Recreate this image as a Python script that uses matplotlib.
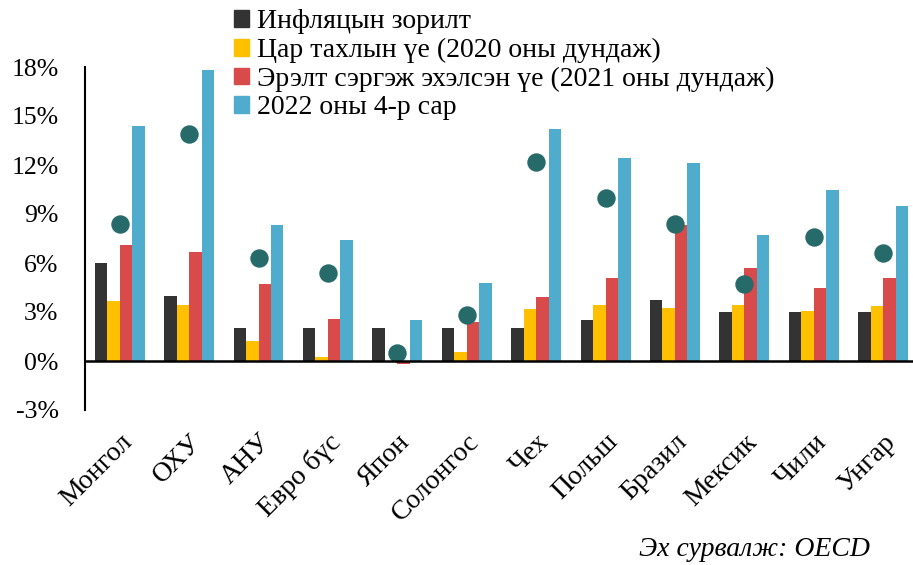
import matplotlib
matplotlib.use("Agg")
import matplotlib.pyplot as plt
import numpy as np
from matplotlib.patches import Patch

categories = ["Монгол", "ОХУ", "АНУ", "Евро бүс", "Япон", "Солонгос", "Чех",
              "Польш", "Бразил", "Мексик", "Чили", "Унгар"]
target = [6.0, 4.0, 2.0, 2.0, 2.0, 2.0, 2.0, 2.5, 3.75, 3.0, 3.0, 3.0]
pandemic = [3.7, 3.4, 1.2, 0.25, 0.0, 0.55, 3.2, 3.4, 3.25, 3.4, 3.05, 3.35]
recovery = [7.1, 6.7, 4.7, 2.6, -0.2, 2.4, 3.9, 5.1, 8.3, 5.7, 4.5, 5.1]
apr2022 = [14.4, 17.8, 8.3, 7.4, 2.5, 4.8, 14.2, 12.4, 12.1, 7.7, 10.5, 9.5]
dots = [8.4, 13.9, 6.3, 5.4, 0.5, 2.8, 12.2, 10.0, 8.4, 4.7, 7.6, 6.6]

series_labels = ["Инфляцын зорилт", "Цар тахлын үе (2020 оны дундаж)",
                 "Эрэлт сэргэж эхэлсэн үе (2021 оны дундаж)", "2022 оны 4-р сар"]
colors = ["#333333", "#FFC000", "#D94B4B", "#4FACCC"]
dot_color = "#266A6A"
yticks = [-3, 0, 3, 6, 9, 12, 15, 18]

plt.rcParams['font.family'] = ['Liberation Serif', 'DejaVu Serif']

fig = plt.figure(figsize=(9.13, 5.65), dpi=100)
ax = fig.add_axes([85/913, 1-410/565, 1-85/913, (410-67)/565])

x = np.arange(len(categories))
w = 0.18
for i, (vals, c) in enumerate(zip([target, pandemic, recovery, apr2022], colors)):
    ax.bar(x + (i - 1.5) * w, vals, width=w, color=c, zorder=2)
ax.scatter(x, dots, s=150, color=dot_color, zorder=3)

ax.axhline(0, color="black", lw=1.8, zorder=4)
ax.set_ylim(-3, 18)
ax.set_xlim(-0.5, 11.43)
ax.set_yticks(yticks)
ax.set_yticklabels([f"{t}%" for t in yticks], fontsize=18.5)
ax.tick_params(axis='y', length=0, pad=19)
ax.set_xticks(x)
ax.set_xticklabels(categories, rotation=45, ha='right', va='top',
                   rotation_mode='anchor', fontsize=20)
ax.tick_params(axis='x', length=0, pad=14)
for s in ["top", "right", "bottom"]:
    ax.spines[s].set_visible(False)
ax.spines["left"].set_linewidth(1.5)

handles = [Patch(color=c) for c in colors]
fig.legend(handles, series_labels, loc="upper left", bbox_to_anchor=(217/913, 1.013),
           frameon=False, fontsize=20, handlelength=0.55, handleheight=0.55,
           handletextpad=0.3, labelspacing=0.13, borderaxespad=0.2)

fig.text(870/913, 1 - 550/565, "Эх сурвалж: OECD", ha="right", va="center",
         fontsize=20, style="italic")

fig.savefig("out.png", dpi=100)
